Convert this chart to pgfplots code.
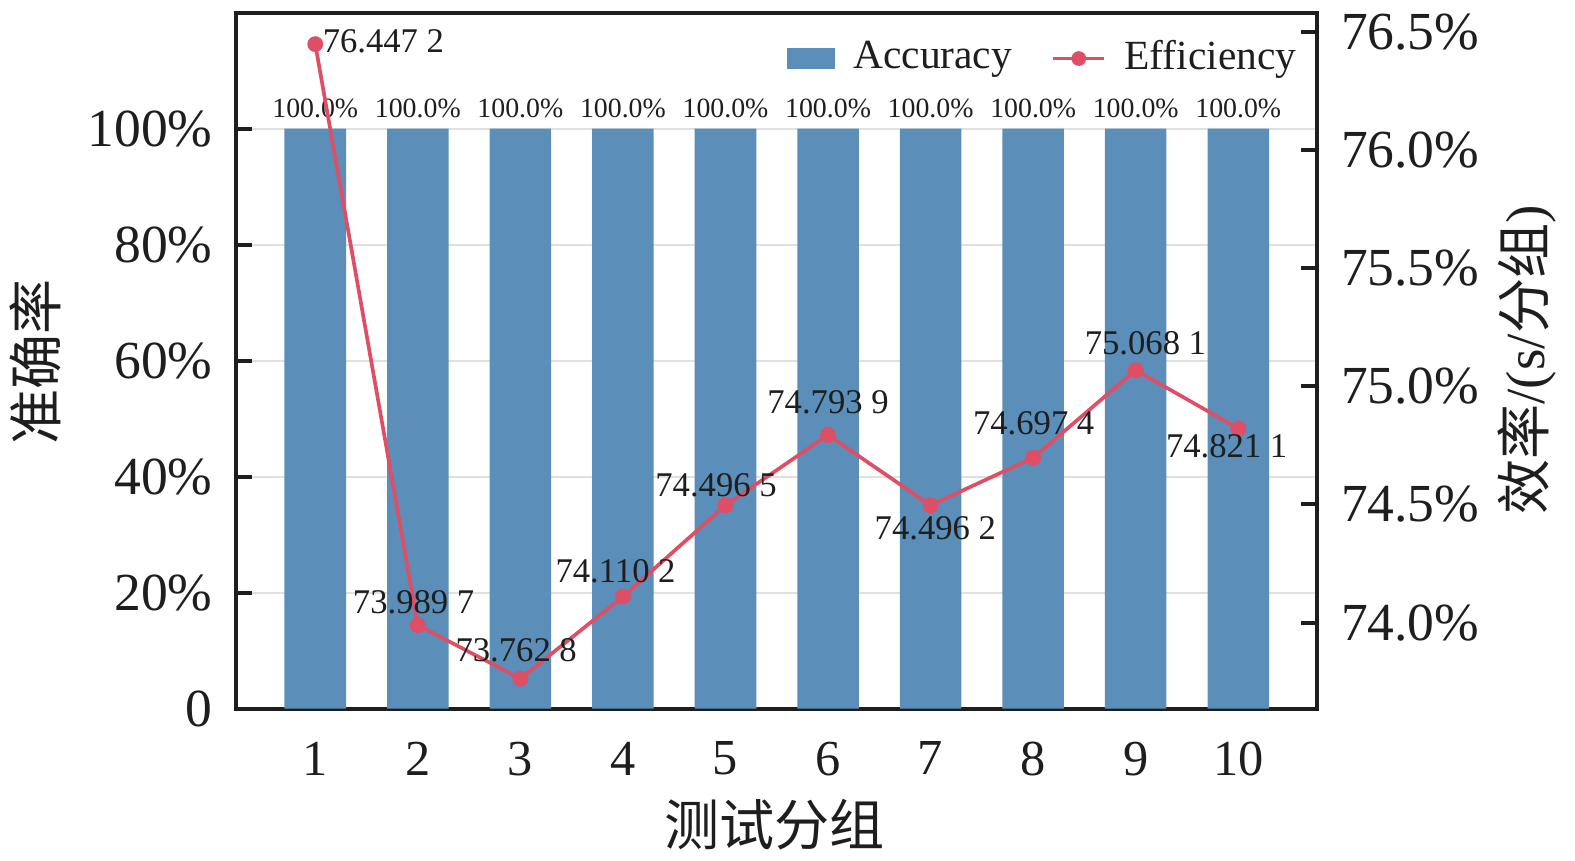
\documentclass[border=0pt]{standalone}
\usepackage{fontspec}
\setmainfont{Liberation Serif}
\newfontfamily\cjk{Noto Sans CJK SC}
\usepackage{pgfplots}
\usepackage{pgfplotstable}
\pgfplotsset{compat=1.18}
\definecolor{barblue}{RGB}{91,142,184}
\definecolor{effred}{RGB}{222,78,100}
\definecolor{txt}{RGB}{30,30,30}

\pgfplotstableread{
x acc
1 100
2 100
3 100
4 100
5 100
6 100
7 100
8 100
9 100
10 100
}\acctable

\pgfplotstableread{
x eff
1 76.4472
2 73.9897
3 73.7628
4 74.1102
5 74.4965
6 74.7939
7 74.4962
8 74.6974
9 75.0681
10 74.8211
}\efftable

% label of one efficiency point: x, y, text, anchor, dx, dy
\newcommand\efflabel[6]{%
  \addplot[draw=none, mark=none, forget plot,
    point meta=explicit symbolic, nodes near coords,
    every node near coord/.append style={anchor=#4, xshift=#5pt, yshift=#6pt,
      font=\fontsize{6.6}{8}\selectfont, text=txt}]
    coordinates {(#1,#2) [#3]};}

\pgfplotsset{
  common/.style={
    at={(0,0)}, anchor=south west,
    scale only axis, width=205.9pt, height=132.57pt,
    xmin=0.23, xmax=10.77,
    /pgf/number format/assume math mode=true,
    tick align=inside, major tick length=3pt,
    axis line style={line width=0.75pt, draw=txt},
    major tick style={line width=0.75pt, draw=txt},
    tick label style={font=\fontsize{10.2}{12}\selectfont, text=txt},
    label style={font=\fontsize{10.5}{12}\selectfont, text=txt},
  }
}

\begin{document}
\begin{tikzpicture}
\begin{axis}[common,
  ymin=0, ymax=120,
  xtick={1,2,3,4,5,6,7,8,9,10},
  ytick={0,20,40,60,80,100},
  yticklabels={0,20\%,40\%,60\%,80\%,100\%},
  xtick pos=lower, ytick pos=left,
  ymajorgrids, grid style={draw=black!12, line width=0.4pt},
  xticklabel style={yshift=-2.8pt, font=\fontsize{9.6}{12}\selectfont},
  yticklabel style={xshift=-1pt},
  xlabel={\cjk 测试分组},
  ylabel={\cjk 准确率},
  xlabel style={at={(axis description cs:0.498,-0.167)}, anchor=center},
  ylabel style={at={(axis description cs:-0.1862,0.498)}, anchor=center, rotate=0},
]
\addplot[ybar, bar width=0.6, fill=barblue, draw=none,
  point meta=y,
  nodes near coords={\pgfmathprintnumber[fixed,fixed zerofill,precision=1]{\pgfplotspointmeta}\%},
  every node near coord/.append style={font=\fontsize{5.3}{6}\selectfont, text=txt, anchor=south, inner sep=1.8pt}
] table[x=x, y=acc]{\acctable};
\end{axis}

\begin{axis}[common,
  ymin=73.636, ymax=76.58,
  axis x line=none, axis y line*=right,
  ytick={74,74.5,75,75.5,76,76.5},
  yticklabel={\pgfmathprintnumber[fixed,fixed zerofill,precision=1]{\tick}\%},
  yticklabel style={xshift=1pt},
  scaled y ticks=false,
  ylabel={{\cjk 效率}/(s/{\cjk 分组})},
  ylabel style={at={(axis description cs:1.194,0.501)}, anchor=center, rotate=0},
  legend style={at={(1.006,0.9925)}, anchor=north east, draw=none, fill=none,
    font=\fontsize{7.9}{9}\selectfont, text=txt,
    /tikz/every odd column/.append style={column sep=1.5pt},
    /tikz/every even column/.append style={column sep=5.5pt}},
  legend columns=2, legend cell align=left,
]
\addlegendimage{legend image code/.code={\fill[barblue] (0pt,-1.8pt) rectangle (8.8pt,1.8pt);}}
\addlegendentry{Accuracy}
\addlegendimage{legend image code/.code={\draw[effred, line width=0.7pt] (0pt,0pt) -- (9.7pt,0pt); \fill[effred] (4.85pt,0pt) circle (1.2pt);}}
\addlegendentry{Efficiency}
\addplot[effred, line width=0.7pt, mark=*, mark size=1.15pt,
  mark options={solid, fill=effred, draw=effred}, forget plot]
  table[x=x, y=eff]{\efftable};
\efflabel{1}{76.4472}{76.447~2}{west}{-2.1}{0.6}
\efflabel{2}{73.9897}{73.989~7}{south}{-0.8}{-1.4}
\efflabel{3}{73.7628}{73.762~8}{south}{-0.8}{-0.4}
\efflabel{4}{74.1102}{74.110~2}{south}{-1.4}{-0.9}
\efflabel{5}{74.4965}{74.496~5}{south}{-1.8}{-1.9}
\efflabel{6}{74.7939}{74.793~9}{south}{0.0}{0.4}
\efflabel{7}{74.4962}{74.496~2}{north}{0.9}{1.35}
\efflabel{8}{74.6974}{74.697~4}{south}{0.1}{0.75}
\efflabel{9}{75.0681}{75.068~1}{south}{1.85}{-0.6}
\efflabel{10}{74.8211}{74.821~1}{north}{-2.2}{2.4}
\end{axis}
\pgfresetboundingbox
\path (-45.01pt,-29.01pt) rectangle (255.0pt,134.99pt);
\end{tikzpicture}
\end{document}
